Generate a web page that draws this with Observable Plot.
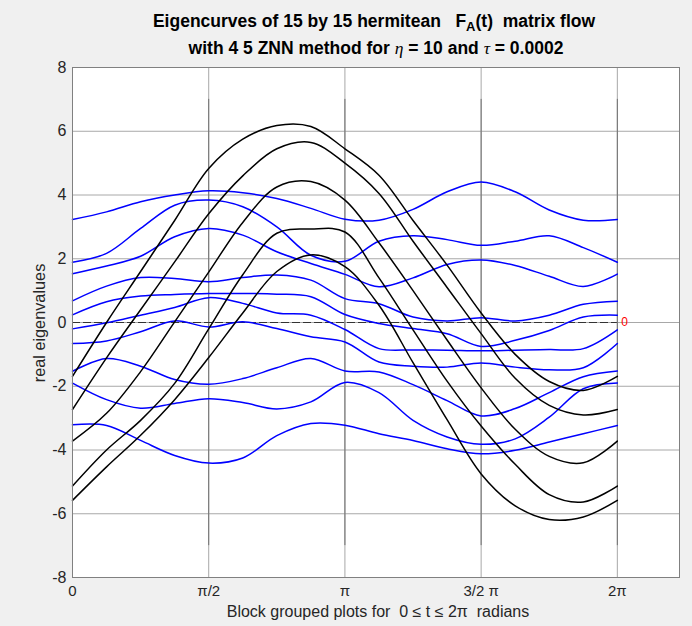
<!DOCTYPE html>
<html><head><meta charset="utf-8">
<script src="https://cdn.jsdelivr.net/npm/d3@7"></script>
<script src="https://cdn.jsdelivr.net/npm/@observablehq/plot@0.6"></script>
<style>
body{margin:0;background:#f0f0f0;}
svg text{white-space:pre;}
</style></head><body><div id="chart"></div>
<script>
// sample times t = k*pi/8, k = 0..16
const tSamples = [0, 0.3927, 0.7854, 1.1781, 1.5708, 1.9635, 2.3562, 2.7489, 3.1416, 3.5343, 3.9270, 4.3197, 4.7124, 5.1051, 5.4978, 5.8905, 6.2832];

// black group (5x5 block)
const black1 = [-1.69, 0.00, 1.60, 3.20, 4.83, 5.75, 6.18, 6.15, 5.45, 4.62, 3.20, 1.80, 0.30, -1.00, -1.85, -2.13, -1.69];
const black2 = [-2.73, -1.11, 0.40, 1.90, 3.41, 4.60, 5.45, 5.65, 5.00, 4.05, 2.55, 1.10, -0.35, -1.75, -2.60, -2.90, -2.73];
const black3 = [-3.72, -2.85, -1.54, 0.02, 1.58, 3.14, 4.25, 4.42, 3.84, 2.50, 1.00, -0.55, -2.05, -3.35, -4.20, -4.40, -3.72];
const black4 = [-5.13, -4.00, -3.07, -1.91, -0.20, 1.50, 2.80, 2.93, 2.84, 1.40, -0.23, -1.84, -3.25, -4.45, -5.40, -5.63, -5.13];
const black5 = [-5.58, -4.53, -3.54, -2.42, -1.10, 0.30, 1.60, 2.12, 1.75, 0.54, -1.26, -3.05, -4.75, -5.75, -6.18, -6.10, -5.58];

// blue group (10x10 block)
const blue1 = [3.23, 3.47, 3.79, 4.00, 4.13, 4.07, 3.89, 3.58, 3.24, 3.21, 3.55, 4.10, 4.41, 4.10, 3.53, 3.21, 3.23];
const blue2 = [1.89, 2.17, 2.95, 3.68, 3.84, 3.63, 3.00, 2.11, 1.92, 2.55, 2.72, 2.60, 2.42, 2.55, 2.72, 2.35, 1.89];
const blue3 = [1.53, 1.77, 2.08, 2.69, 2.95, 2.74, 2.22, 1.85, 1.51, 1.12, 1.40, 1.82, 1.96, 1.79, 1.45, 1.13, 1.52];
const blue4 = [0.68, 1.14, 1.41, 1.38, 1.28, 1.41, 1.49, 1.33, 0.75, 0.59, 0.17, 0.05, 0.15, 0.05, 0.23, 0.57, 0.67];
const blue5 = [0.24, 0.65, 0.83, 0.88, 0.91, 0.91, 0.89, 0.81, 0.25, -0.03, -0.19, -0.35, -0.75, -0.56, -0.25, 0.17, 0.23];
const blue6 = [-0.20, -0.01, 0.23, 0.47, 0.78, 0.60, 0.30, 0.23, -0.22, -0.82, -0.86, -0.87, -0.89, -0.87, -0.85, -0.82, -0.23];
const blue7 = [-0.66, -0.58, -0.29, 0.05, -0.14, 0.02, -0.19, -0.45, -0.61, -1.24, -1.37, -1.40, -1.27, -1.40, -1.48, -1.42, -0.66];
const blue8 = [-1.53, -1.13, -1.37, -1.79, -1.94, -1.76, -1.42, -1.13, -1.52, -1.55, -1.95, -2.45, -2.93, -2.70, -2.20, -1.70, -1.52];
const blue9 = [-1.90, -2.42, -2.69, -2.54, -2.39, -2.51, -2.71, -2.49, -1.88, -2.20, -3.07, -3.59, -3.82, -3.65, -2.97, -2.08, -1.90];
const blue10 = [-3.21, -3.23, -3.70, -4.17, -4.41, -4.25, -3.55, -3.17, -3.22, -3.49, -3.70, -3.96, -4.12, -4.01, -3.75, -3.49, -3.23];

const xTicks = [0, Math.PI / 2, Math.PI, 3 * Math.PI / 2, 2 * Math.PI];
const xTickLabels = ["0", "π/2", "π", "3/2 π", "2π"];
const blockLines = [Math.PI / 2, Math.PI, 3 * Math.PI / 2, 2 * Math.PI];
const yTicks = [-8, -6, -4, -2, 0, 2, 4, 6, 8];

const blackSeries = [black1, black2, black3, black4, black5];
const blueSeries = [blue1, blue2, blue3, blue4, blue5, blue6, blue7, blue8, blue9, blue10];

const toRows = (series, color, prefix) => series.flatMap((vals, j) =>
  vals.map((v, i) => ({t: tSamples[i], v, id: prefix + j, color})));
const blueRows = toRows(blueSeries, "#0000ff", "b");
const blackRows = toRows(blackSeries, "#000000", "k");

const fmtX = d => {
  const i = xTicks.findIndex(x => Math.abs(x - d) < 1e-9);
  return i >= 0 ? xTickLabels[i] : "";
};

const font = "'Liberation Sans', Arial, Helvetica, sans-serif";
const chart = Plot.plot({
  width: 692, height: 626,
  marginLeft: 72, marginRight: 13, marginTop: 67, marginBottom: 49,
  style: {background: "#f0f0f0", fontFamily: font, fontSize: "15px", color: "#262626"},
  x: {domain: [0, 7]},
  y: {domain: [-8, 8]},
  color: {type: "identity"},
  marks: [
    Plot.frame({fill: "white", stroke: null}),
    Plot.gridX(xTicks, {stroke: "#a8a8a8", strokeOpacity: 1}),
    Plot.gridY(yTicks, {stroke: "#a8a8a8", strokeOpacity: 1}),
    Plot.ruleX(blockLines, {y1: -7, y2: 7, stroke: "#707070", strokeWidth: 1}),
    Plot.ruleY([0], {x1: 0, x2: 2 * Math.PI, stroke: "#333333", strokeDasharray: "8,3"}),
    Plot.line(blueRows, {x: "t", y: "v", z: "id", stroke: "color", strokeWidth: 1.5, curve: "catmull-rom"}),
    Plot.line(blackRows, {x: "t", y: "v", z: "id", stroke: "color", strokeWidth: 1.5, curve: "catmull-rom"}),
    Plot.text([{t: 2 * Math.PI, v: 0, s: "0"}], {x: "t", y: "v", text: "s", dx: 4, textAnchor: "start", fill: "#ff0000", fontSize: 12}),
    Plot.frame({stroke: "#808080"}),
    Plot.axisX(xTicks, {tickFormat: fmtX, tickSize: 0, tickPadding: 8, label: null, fontSize: 15}),
    Plot.axisY(yTicks, {tickFormat: d => String(d), tickSize: 0, tickPadding: 6, label: null, fontSize: 16})
  ]
});
document.getElementById("chart").appendChild(chart);

const svg = d3.select(chart);
// Title line 1
const t1 = svg.append("text").attr("x", 374).attr("y", 27).attr("text-anchor", "middle")
  .attr("font-family", font).attr("font-weight", "bold").attr("font-size", 17.5).attr("fill", "#000");
t1.append("tspan").text("Eigencurves of 15 by 15 hermitean   F");
t1.append("tspan").attr("baseline-shift", "-30%").attr("font-size", 13).text("A");
t1.append("tspan").text("(t)  matrix flow");
// Title line 2
const t2 = svg.append("text").attr("x", 376).attr("y", 54).attr("text-anchor", "middle")
  .attr("font-family", font).attr("font-weight", "bold").attr("font-size", 17.5).attr("fill", "#000");
t2.append("tspan").text("with 4 5 ZNN method for ");
t2.append("tspan").attr("font-style", "italic").attr("font-weight", "normal").attr("font-family", "'Liberation Serif', serif").text("η");
t2.append("tspan").text(" = 10 and ");
t2.append("tspan").attr("font-style", "italic").attr("font-weight", "normal").attr("font-family", "'Liberation Serif', serif").text("τ");
t2.append("tspan").text(" = 0.0002");
// x label
svg.append("text").attr("x", 378).attr("y", 617).attr("text-anchor", "middle")
  .attr("font-family", font).attr("font-size", 16).attr("fill", "#262626")
  .text("Block grouped plots for  0 ≤ t ≤ 2π  radians");
// y label
svg.append("text").attr("transform", "translate(45,323) rotate(-90)").attr("text-anchor", "middle")
  .attr("font-family", font).attr("font-size", 16.3).attr("fill", "#262626")
  .text("real eigenvalues");
</script></body></html>
